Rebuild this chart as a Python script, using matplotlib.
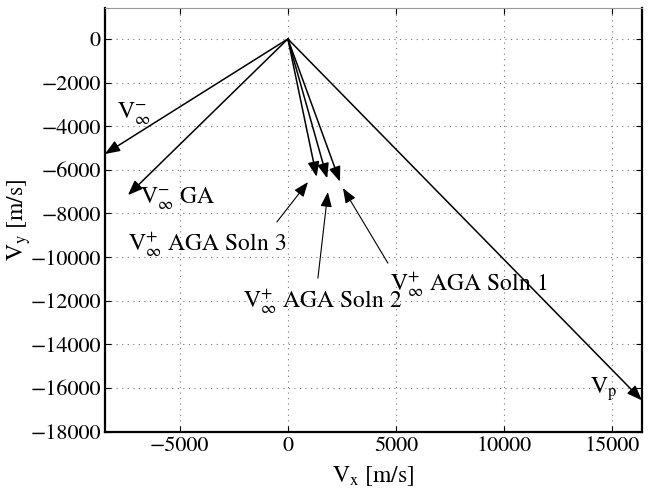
import matplotlib
matplotlib.use("Agg")
import matplotlib.pyplot as plt
from matplotlib.patches import FancyArrowPatch

plt.rcParams['font.family'] = ['STIXGeneral']
plt.rcParams['mathtext.fontset'] = 'stix'

# velocity vectors [m/s], all drawn from the origin
vec_names = ['vinf_minus', 'vinf_minus_ga', 'soln3', 'soln2', 'soln1', 'vp']
vec_x = [-8470, -7400, 1330, 1820, 2410, 16380]
vec_y = [-5275, -7160, -6320, -6390, -6540, -16560]

# text labels next to the vectors (left / baseline of the text)
label_text = [r'$\mathrm{V}_{\infty}^{-}$', r'$\mathrm{V}_{\infty}^{-}$ GA', r'$\mathrm{V}_{\mathrm{p}}$']
label_x = [-7920, -6850, 13980]
label_y = [-3620, -7520, -16240]

# annotated solutions: text, arrow tail and arrow tip
soln_text = [r'$\mathrm{V}_{\infty}^{+}$ AGA Soln 3',
             r'$\mathrm{V}_{\infty}^{+}$ AGA Soln 2',
             r'$\mathrm{V}_{\infty}^{+}$ AGA Soln 1']
soln_text_x = [-7400, -2080, 4720]
soln_text_y = [-9680, -12290, -11510]
soln_tail_x = [-510, 1390, 4630]
soln_tail_y = [-8390, -10960, -10275]
soln_tip_x = [930, 1850, 2550]
soln_tip_y = [-6560, -7020, -6840]

fig = plt.figure(figsize=(6.55, 4.96), dpi=100)
ax = fig.add_axes([0.160, 0.1296, 0.820, 0.8544])

head = '-|>,head_length=0.9,head_width=0.35'

for x, y in zip(vec_x, vec_y):
    ar = FancyArrowPatch((0, 0), (x, y), arrowstyle=head,
                         mutation_scale=10, color='black', lw=1.1,
                         shrinkA=0, shrinkB=0, zorder=3)
    ax.add_patch(ar)

for t, x, y in zip(label_text, label_x, label_y):
    ax.text(x, y, t, fontsize=17, ha='left', va='baseline')

for t, tx, ty, ax0, ay0, bx, by in zip(soln_text, soln_text_x, soln_text_y,
                                        soln_tail_x, soln_tail_y, soln_tip_x, soln_tip_y):
    ax.text(tx, ty, t, fontsize=17, ha='left', va='baseline')
    ar = FancyArrowPatch((ax0, ay0), (bx, by), arrowstyle=head,
                         mutation_scale=10, color='black', lw=0.8,
                         shrinkA=0, shrinkB=0, zorder=3)
    ax.add_patch(ar)

ax.set_xlim(-8470, 16380)
ax.set_ylim(-18000, 1420)
ax.set_xticks([-5000, 0, 5000, 10000, 15000])
ax.set_yticks(list(range(-18000, 1, 2000)))
ax.tick_params(direction='in', length=4, labelsize=16, top=True, right=True, width=0.8, pad=3)
ax.grid(True, color='#777777', linestyle=(0, (1, 4)), lw=0.8)

for side in ['left', 'bottom', 'right']:
    ax.spines[side].set_linewidth(1.6)
ax.spines['top'].set_color('#999999')
ax.spines['top'].set_linewidth(0.8)

ax.set_xlabel(r'$\mathrm{V}_{\mathrm{x}}$ [m/s]', fontsize=17, labelpad=6)
ax.set_ylabel(r'$\mathrm{V}_{\mathrm{y}}$ [m/s]', fontsize=17, labelpad=-2)

fig.savefig('out.png', dpi=100)
